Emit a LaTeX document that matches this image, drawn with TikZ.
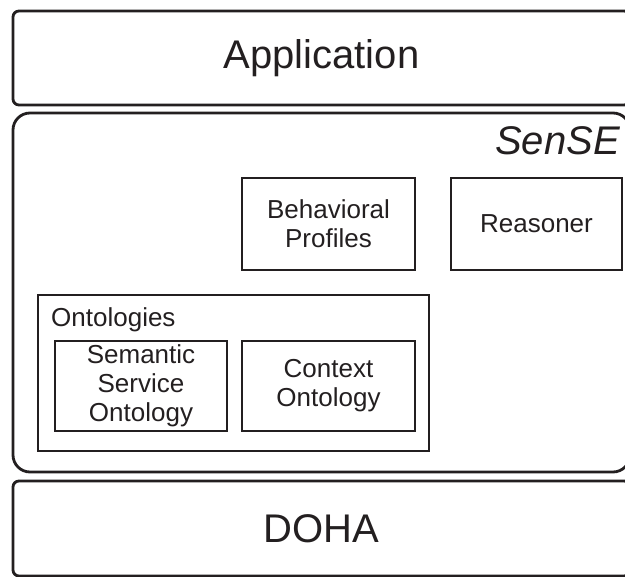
\documentclass[tikz,border=0pt]{standalone}
\usepackage{fontspec}
\setmainfont{Liberation Sans}

\definecolor{ink}{HTML}{231F20}

\begin{document}
\begin{tikzpicture}[x=1pt,y=-1pt,
  layer/.style={draw=ink, text=ink, line width=2.8pt, inner sep=0pt, minimum width=617pt, font=\fontsize{40}{48}\selectfont},
  block/.style={draw=ink, text=ink, line width=2.8pt, inner sep=0pt, align=center, font=\fontsize{26}{29}\selectfont}]
\useasboundingbox (0,0) rectangle (625,577);
\clip (0,0) rectangle (625,577);
% layers
\node[layer, rounded corners=6pt, minimum height=94pt] (app) at (321.5,58) {Application};
\node[layer, rounded corners=17pt, minimum height=359pt] (sense) at (321.5,292.5) {};
\node[layer, rounded corners=6pt, minimum height=95pt] (doha) at (321.5,528.5) {DOHA};
\node[anchor=base east, text=ink, inner sep=0pt, font=\fontsize{40}{48}\selectfont\itshape] (sensetitle) at (620,155) {SenSE};
% components
\node[block, minimum width=173pt, minimum height=92pt] (profiles) at (328.5,224) {Behavioral\\Profiles};
\node[block, minimum width=171pt, minimum height=92pt] (reasoner) at (536.5,224) {Reasoner};
\node[block, minimum width=391pt, minimum height=156pt] (ontologies) at (233.5,373) {};
\node[anchor=base west, text=ink, inner sep=0pt, font=\fontsize{26}{29}\selectfont] (ontotitle) at (51,327) {Ontologies};
\node[block, minimum width=172pt, minimum height=90pt] (serviceonto) at (141,386) {Semantic\\Service\\Ontology};
\node[block, minimum width=173pt, minimum height=90pt] (contextonto) at (328.5,386) {Context\\Ontology};
\end{tikzpicture}
\end{document}
